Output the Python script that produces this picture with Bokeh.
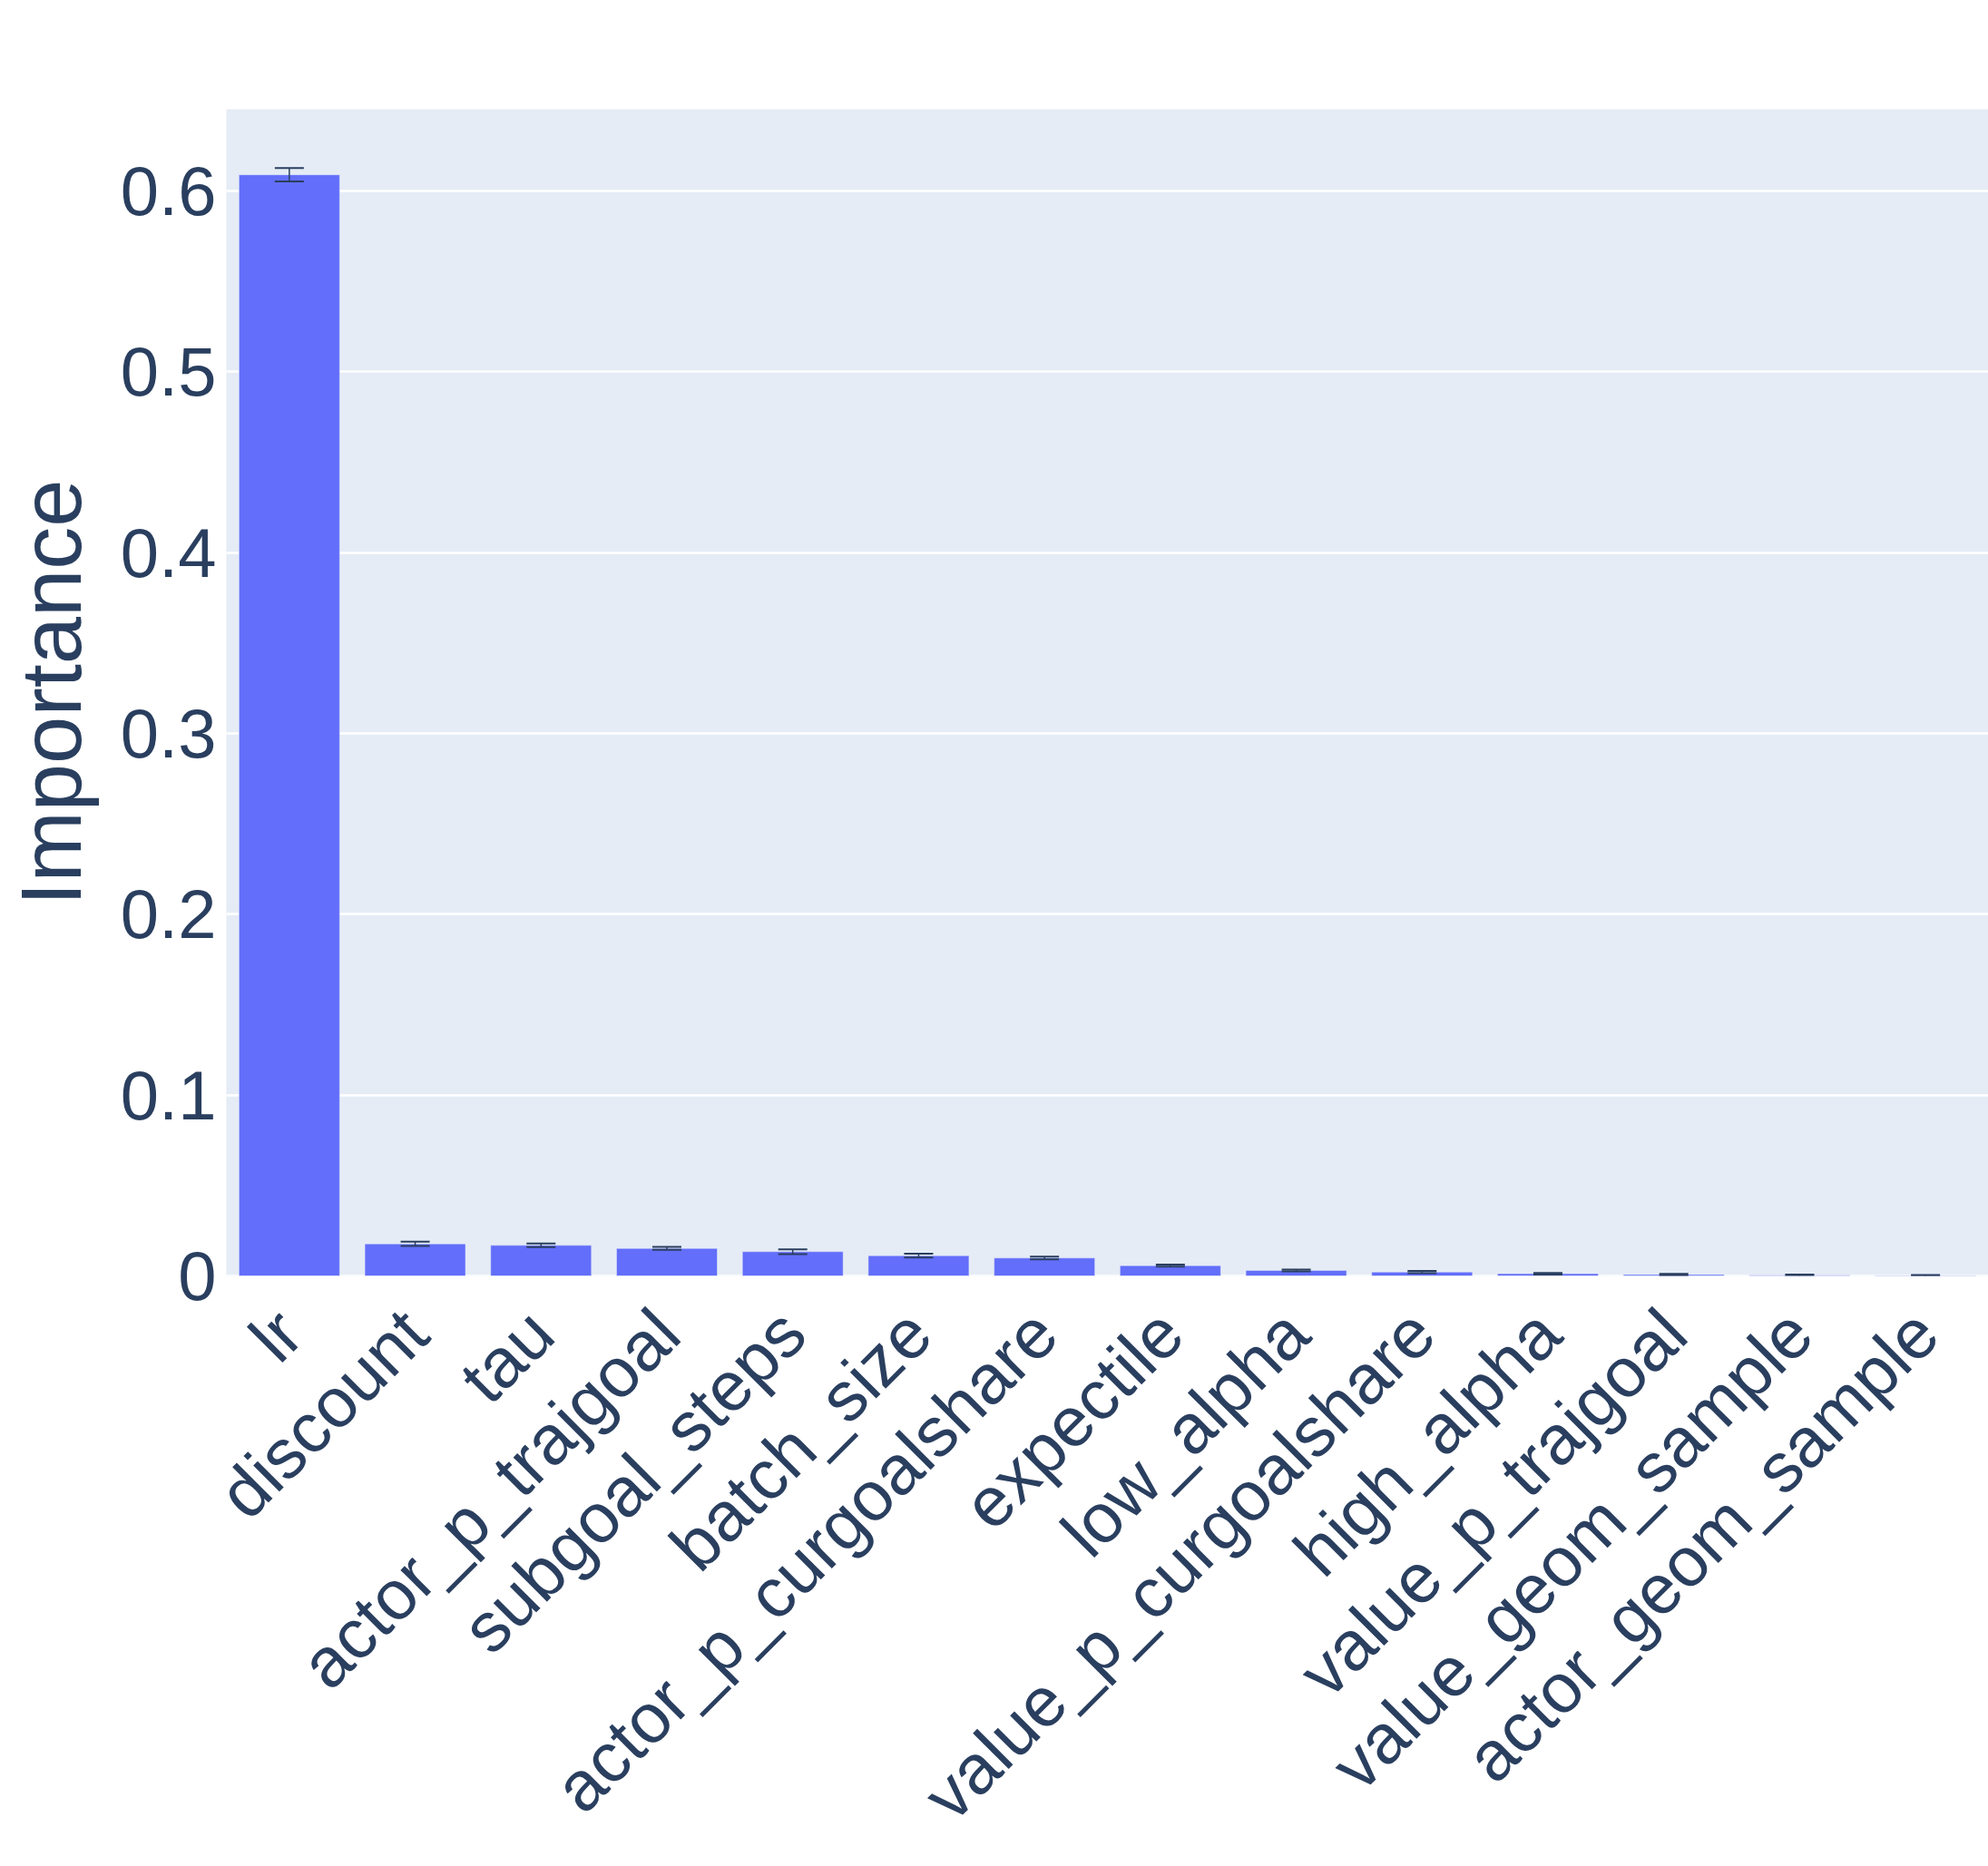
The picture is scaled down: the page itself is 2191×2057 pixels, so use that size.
import math
from bokeh.plotting import figure
from bokeh.models import ColumnDataSource, FactorRange, Range1d, Whisker, TeeHead, Span
from bokeh.embed import file_html
from bokeh.resources import INLINE

params = ["lr", "discount", "tau", "actor_p_trajgoal", "subgoal_steps", "batch_size",
          "actor_p_curgoalshare", "expectile", "low_alpha", "value_p_curgoalshare",
          "high_alpha", "value_p_trajgoal", "value_geom_sample", "actor_geom_sample"]
importance = [0.609, 0.0177, 0.0169, 0.0152, 0.0134, 0.0112, 0.0099, 0.0057,
              0.0030, 0.0021, 0.0012, 0.0007, 0.0004, 0.0002]
importance_err = [0.0037, 0.0012, 0.0010, 0.0008, 0.0013, 0.0011, 0.0008, 0.0006,
                  0.0005, 0.0006, 0.0004, 0.0004, 0.0004, 0.0003]

FONT = "Liberation Sans"
TXT = "#2a3f5f"

src = ColumnDataSource(dict(
    x=params,
    y=importance,
    upper=[v + e for v, e in zip(importance, importance_err)],
    lower=[v - e for v, e in zip(importance, importance_err)],
))

W, H = 2191, 2057
top, left = 120, 248
plot_h = 1286
p = figure(x_range=FactorRange(factors=params, range_padding=0),
           y_range=Range1d(0, 0.6452),
           width=W, height=H, output_backend="svg", toolbar_location=None,
           min_border_top=top, min_border_left=left, min_border_right=0,
           min_border_bottom=H - top - plot_h)

p.background_fill_color = "#E5ECF6"
p.border_fill_color = "white"
p.outline_line_color = None
p.xgrid.grid_line_color = None
p.ygrid.grid_line_color = "white"
p.ygrid.grid_line_width = 2.6

p.add_layout(Span(location=0, dimension="width", line_color="white", line_width=2.6, level="underlay"))

p.vbar(x="x", top="y", width=0.8, source=src, fill_color="#636efa",
       line_color="#E5ECF6", line_width=0.5)

p.add_layout(Whisker(base="x", upper="upper", lower="lower", source=src,
                     line_color=TXT, line_width=1.5, level="annotation",
                     upper_head=TeeHead(size=32, line_color=TXT, line_width=2),
                     lower_head=TeeHead(size=32, line_color=TXT, line_width=2)))

p.yaxis.ticker = [0, 0.1, 0.2, 0.3, 0.4, 0.5, 0.6]
p.yaxis.major_label_overrides = {0: "0"}
for ax in (p.xaxis, p.yaxis):
    ax.axis_line_color = None
    ax.major_tick_line_color = None
    ax.minor_tick_line_color = None
    ax.major_tick_out = 0
    ax.major_label_text_font = FONT
    ax.major_label_text_color = TXT
p.yaxis.major_label_text_font_size = "76px"
p.xaxis.major_label_text_font_size = "77px"
p.yaxis.major_label_standoff = 11
p.xaxis.major_label_standoff = 50
p.xaxis.major_label_orientation = math.pi / 4

p.yaxis.axis_label = "Importance"
p.yaxis.axis_label_text_font = FONT
p.yaxis.axis_label_text_font_size = "94px"
p.yaxis.axis_label_text_font_style = "normal"
p.yaxis.axis_label_text_color = TXT
p.yaxis.axis_label_standoff = 21

open("out.html", "w").write(file_html(p, INLINE))
